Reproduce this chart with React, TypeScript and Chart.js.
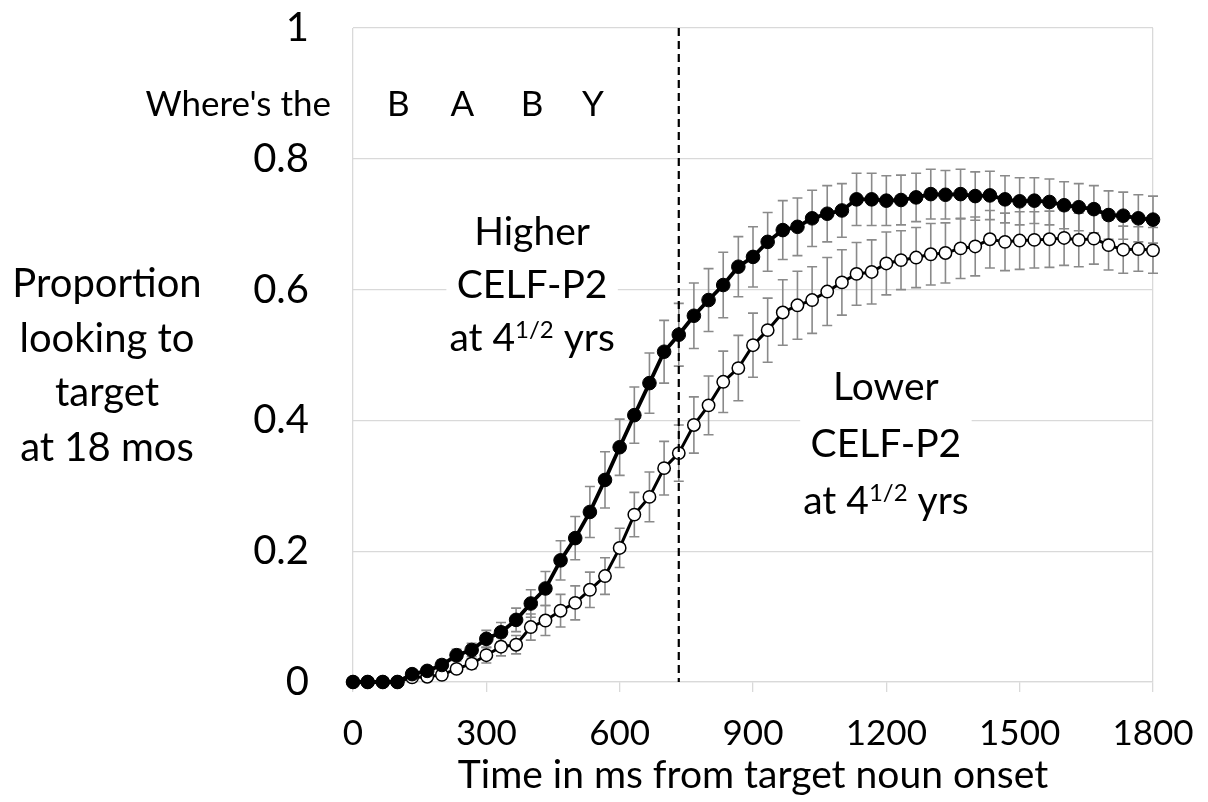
import React, { useEffect, useRef } from 'react';
import { Chart, registerables } from 'chart.js';

Chart.register(...registerables);

// ---- Data ----
const timesMs = [
  0, 33, 67, 100, 133, 167, 200, 233, 267, 300, 333, 367, 400, 433, 467, 500, 533, 567, 600,
  633, 667, 700, 733, 767, 800, 833, 867, 900, 933, 967, 1000, 1033, 1067, 1100, 1133, 1167,
  1200, 1233, 1267, 1300, 1333, 1367, 1400, 1433, 1467, 1500, 1533, 1567, 1600, 1633, 1667,
  1700, 1733, 1767, 1800,
];

const higherMeans = [
  0, 0, 0, 0, 0.012, 0.017, 0.026, 0.041, 0.049, 0.066, 0.076, 0.095, 0.12, 0.143, 0.186,
  0.22, 0.26, 0.309, 0.359, 0.408, 0.457, 0.505, 0.531, 0.56, 0.584, 0.607, 0.635, 0.65,
  0.673, 0.691, 0.696, 0.709, 0.716, 0.721, 0.738, 0.738, 0.736, 0.737, 0.741, 0.746, 0.745,
  0.746, 0.743, 0.744, 0.738, 0.735, 0.736, 0.734, 0.729, 0.726, 0.723, 0.714, 0.713, 0.709,
  0.707,
];

const higherErrors = [
  0, 0, 0, 0, 0.005, 0.006, 0.008, 0.009, 0.01, 0.013, 0.015, 0.018, 0.021, 0.026, 0.03,
  0.033, 0.039, 0.043, 0.043, 0.043, 0.046, 0.048, 0.048, 0.05, 0.048, 0.05, 0.046, 0.046,
  0.045, 0.045, 0.044, 0.043, 0.043, 0.041, 0.04, 0.04, 0.038, 0.038, 0.037, 0.038, 0.037,
  0.038, 0.037, 0.037, 0.036, 0.036, 0.035, 0.035, 0.036, 0.036, 0.036, 0.037, 0.036, 0.036,
  0.036,
];

const lowerMeans = [
  0, 0, 0, 0, 0.007, 0.008, 0.011, 0.02, 0.028, 0.041, 0.054, 0.057, 0.084, 0.094, 0.109,
  0.121, 0.141, 0.162, 0.205, 0.256, 0.283, 0.327, 0.35, 0.393, 0.423, 0.459, 0.48, 0.515,
  0.538, 0.565, 0.576, 0.584, 0.597, 0.611, 0.624, 0.627, 0.64, 0.645, 0.649, 0.654, 0.656,
  0.663, 0.666, 0.677, 0.673, 0.675, 0.676, 0.677, 0.679, 0.676, 0.678, 0.668, 0.661, 0.662,
  0.66,
];

const lowerErrors = [
  0, 0, 0, 0, 0.003, 0.004, 0.005, 0.006, 0.008, 0.012, 0.014, 0.014, 0.02, 0.023, 0.025,
  0.026, 0.027, 0.028, 0.03, 0.034, 0.038, 0.041, 0.043, 0.043, 0.045, 0.047, 0.05, 0.049,
  0.049, 0.05, 0.052, 0.051, 0.052, 0.05, 0.048, 0.049, 0.048, 0.045, 0.046, 0.047, 0.046,
  0.046, 0.045, 0.044, 0.044, 0.044, 0.043, 0.043, 0.042, 0.041, 0.039, 0.038, 0.036, 0.034,
  0.035,
];

const xTickLabels = ['0', '300', '600', '900', '1200', '1500', '1800'];
const yTickLabels = ['0', '0.2', '0.4', '0.6', '0.8', '1'];

const nounOnsetMarkerMs = 733;

const carrierPhrase = "Where's the";
const targetWordLetters = ['B', 'A', 'B', 'Y'];
const targetLetterTimesMs = [102, 246, 403, 540];

const yAxisTitleLines = ['Proportion', 'looking to', 'target', 'at 18 mos'];
const xAxisTitle = 'Time in ms from target noun onset';

const higherGroupLabel = ['Higher', 'CELF-P2'];
const lowerGroupLabel = ['Lower', 'CELF-P2'];
const ageLabelParts = ['at 4', '1/2', ' yrs'];

const FONT = 'Lato, "Open Sans", "Noto Sans", sans-serif';

type Part = { text: string; sup?: boolean };

function supSize(size: number) {
  return Math.round(size * 0.62);
}

function measureLine(ctx: CanvasRenderingContext2D, parts: Part[], size: number) {
  let total = 0;
  parts.forEach((p) => {
    ctx.font = `${p.sup ? supSize(size) : size}px ${FONT}`;
    total += ctx.measureText(p.text).width;
  });
  return total;
}

function drawLine(ctx: CanvasRenderingContext2D, parts: Part[], cx: number, baseline: number, size: number) {
  const total = measureLine(ctx, parts, size);
  let x = cx - total / 2;
  ctx.textAlign = 'left';
  ctx.textBaseline = 'alphabetic';
  parts.forEach((p) => {
    ctx.font = `${p.sup ? supSize(size) : size}px ${FONT}`;
    ctx.fillText(p.text, x, p.sup ? baseline - size * 0.34 : baseline);
    x += ctx.measureText(p.text).width;
  });
}

function drawBlock(
  ctx: CanvasRenderingContext2D,
  lines: Part[][],
  cx: number,
  firstBaseline: number,
  lineGap: number,
  size: number,
) {
  const widths = lines.map((l) => measureLine(ctx, l, size));
  const maxW = Math.max(...widths);
  const top = firstBaseline - size * 0.85;
  const bottom = firstBaseline + lineGap * (lines.length - 1) + size * 0.3;
  ctx.fillStyle = '#ffffff';
  ctx.fillRect(cx - maxW / 2 - 3, top, maxW + 6, bottom - top);
  ctx.fillStyle = '#000000';
  lines.forEach((l, i) => drawLine(ctx, l, cx, firstBaseline + i * lineGap, size));
}

const annotationPlugin = {
  id: 'figureAnnotations',
  beforeDatasetsDraw(chart: any) {
    const { ctx, scales } = chart;
    const x = scales.x;
    const y = scales.y;
    ctx.save();

    const ageParts: Part[] = [
      { text: ageLabelParts[0] },
      { text: ageLabelParts[1], sup: true },
      { text: ageLabelParts[2] },
    ];
    drawBlock(
      ctx,
      [[{ text: higherGroupLabel[0] }], [{ text: higherGroupLabel[1] }], ageParts],
      x.getPixelForValue(403),
      y.getPixelForValue(0.668),
      53,
      39,
    );
    drawBlock(
      ctx,
      [[{ text: lowerGroupLabel[0] }], [{ text: lowerGroupLabel[1] }], ageParts],
      x.getPixelForValue(1199),
      y.getPixelForValue(0.431),
      57,
      39,
    );

    // Error bars
    const series = [
      { means: lowerMeans, errs: lowerErrors },
      { means: higherMeans, errs: higherErrors },
    ];
    ctx.strokeStyle = '#8a8a8a';
    ctx.lineWidth = 1.6;
    series.forEach((s) => {
      s.means.forEach((m, i) => {
        const e = s.errs[i];
        if (!e) return;
        const px = x.getPixelForValue(timesMs[i]);
        const top = y.getPixelForValue(m + e);
        const bot = y.getPixelForValue(m - e);
        ctx.beginPath();
        ctx.moveTo(px, top);
        ctx.lineTo(px, bot);
        ctx.moveTo(px - 5, top);
        ctx.lineTo(px + 5, top);
        ctx.moveTo(px - 5, bot);
        ctx.lineTo(px + 5, bot);
        ctx.stroke();
      });
    });
    ctx.restore();
  },
  afterDatasetsDraw(chart: any) {
    const { ctx, scales, chartArea } = chart;
    const x = scales.x;
    ctx.save();
    const px = x.getPixelForValue(nounOnsetMarkerMs);
    ctx.strokeStyle = '#000';
    ctx.lineWidth = 2.2;
    ctx.setLineDash([8, 5]);
    ctx.beginPath();
    ctx.moveTo(px, chartArea.top);
    ctx.lineTo(px, chartArea.bottom);
    ctx.stroke();
    ctx.setLineDash([]);
    ctx.restore();
  },
  afterDraw(chart: any) {
    const { ctx, scales, chartArea } = chart;
    const x = scales.x;
    const y = scales.y;
    ctx.save();
    ctx.fillStyle = '#000';
    const phraseBaseline = y.getPixelForValue(0.866);
    ctx.font = `35px ${FONT}`;
    ctx.textAlign = 'right';
    ctx.textBaseline = 'alphabetic';
    ctx.fillText(carrierPhrase, chartArea.left - 22, phraseBaseline);
    ctx.textAlign = 'center';
    targetWordLetters.forEach((l, i) => {
      ctx.fillText(l, x.getPixelForValue(targetLetterTimesMs[i]), phraseBaseline);
    });

    ctx.font = `40px ${FONT}`;
    ctx.textAlign = 'center';
    yAxisTitleLines.forEach((line, i) => {
      ctx.fillText(line, 107, 297 + i * 54.5);
    });

    ctx.font = `39px ${FONT}`;
    ctx.fillText(xAxisTitle, (chartArea.left + chartArea.right) / 2, 788);
    ctx.restore();
  },
};

export default function App() {
  const canvasRef = useRef<HTMLCanvasElement | null>(null);

  useEffect(() => {
    if (!canvasRef.current) return;
    const gridColor = '#d9d9d9';
    const chart = new Chart(canvasRef.current, {
      type: 'line',
      data: {
        datasets: [
          {
            label: 'Higher CELF-P2 at 4 1/2 yrs',
            data: timesMs.map((t, i) => ({ x: t, y: higherMeans[i] })),
            borderColor: '#000',
            borderWidth: 3.8,
            pointRadius: 6.8,
            pointBackgroundColor: '#000',
            pointBorderColor: '#000',
            pointBorderWidth: 1,
            tension: 0,
            clip: false,
          },
          {
            label: 'Lower CELF-P2 at 4 1/2 yrs',
            data: timesMs.map((t, i) => ({ x: t, y: lowerMeans[i] })),
            borderColor: '#000',
            borderWidth: 3,
            pointRadius: 6.2,
            pointBackgroundColor: '#fff',
            pointBorderColor: '#000',
            pointBorderWidth: 1.5,
            tension: 0,
            clip: false,
          },
        ],
      },
      options: {
        animation: false,
        responsive: true,
        maintainAspectRatio: false,
        layout: { padding: { left: 0, right: 55, top: 28, bottom: 0 } },
        plugins: { legend: { display: false }, tooltip: { enabled: false } },
        scales: {
          x: {
            type: 'linear',
            min: 0,
            max: 1800,
            afterBuildTicks: (scale: any) => {
              scale.ticks = xTickLabels.map((l) => ({ value: Number(l) }));
            },
            afterFit: (scale: any) => {
              scale.height = 120;
              scale.paddingLeft = 0;
              scale.paddingRight = 0;
              scale.paddingTop = 0;
              scale.paddingBottom = 0;
            },
            ticks: {
              autoSkip: false,
              maxRotation: 0,
              padding: 21,
              color: '#000',
              font: { family: FONT, size: 35 },
              callback: (_v: any, i: number) => xTickLabels[i],
            },
            grid: {
              color: (c: any) =>
                c.index === 0 || c.index === xTickLabels.length - 1 ? gridColor : 'rgba(0,0,0,0)',
              tickColor: gridColor,
              tickLength: 10,
              lineWidth: 1.3,
            },
            border: { display: true, color: gridColor, width: 1.3 },
          },
          y: {
            min: 0,
            max: 1,
            afterBuildTicks: (scale: any) => {
              scale.ticks = yTickLabels.map((l) => ({ value: Number(l) }));
            },
            afterFit: (scale: any) => {
              scale.width = 353;
              scale.paddingTop = 0;
              scale.paddingBottom = 0;
              scale.paddingLeft = 0;
              scale.paddingRight = 0;
            },
            ticks: {
              padding: 44,
              color: '#000',
              font: { family: FONT, size: 40 },
              callback: (_v: any, i: number) => yTickLabels[i],
            },
            grid: { color: gridColor, drawTicks: false, lineWidth: 1.3 },
            border: { display: false },
          },
        },
      },
      plugins: [annotationPlugin],
    });
    return () => chart.destroy();
  }, []);

  return (
    <div style={{ position: 'absolute', left: 0, top: 0, width: 1208, height: 802, background: '#fff' }}>
      <canvas ref={canvasRef} />
    </div>
  );
}
